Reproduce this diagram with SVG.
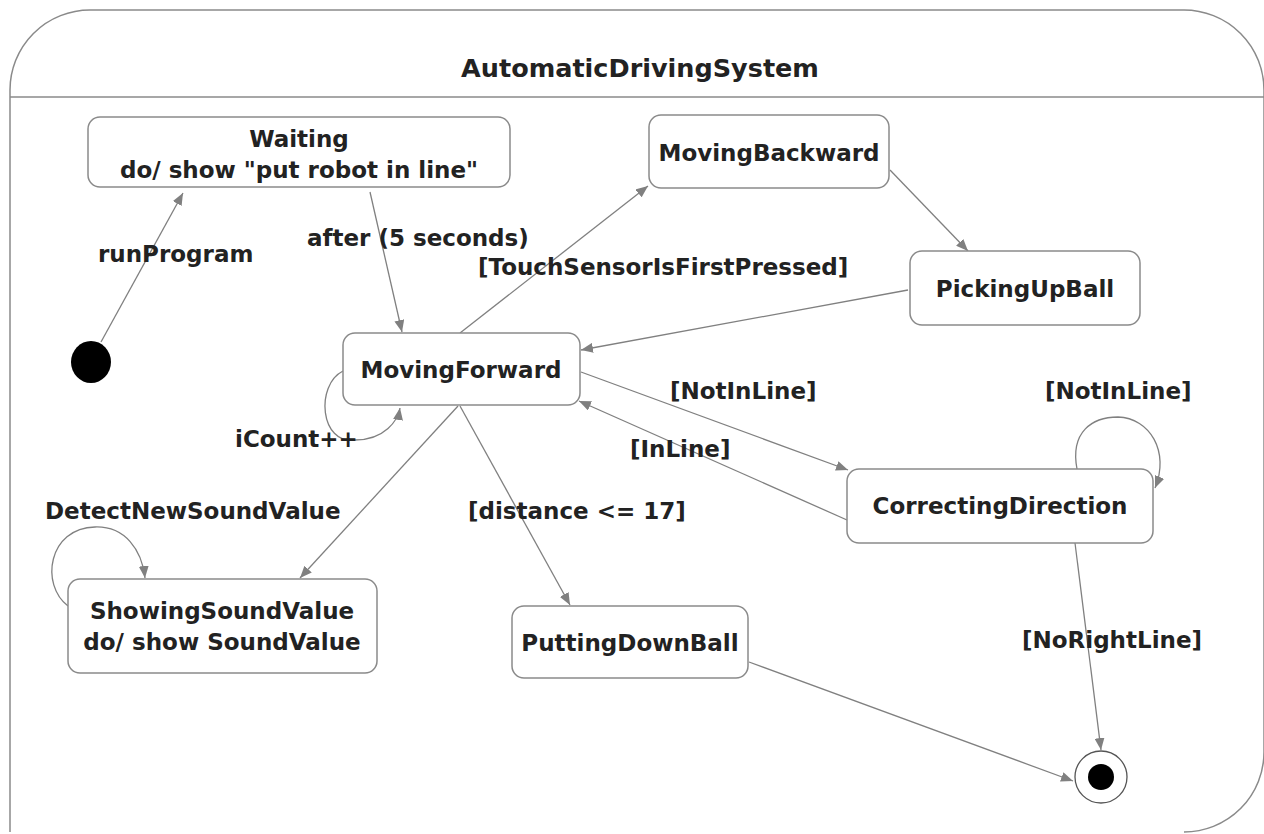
<svg xmlns="http://www.w3.org/2000/svg" width="1264" height="834" viewBox="0 0 1264 834">
<defs>
<marker id="arr" viewBox="0 0 12 10" refX="12" refY="5" markerWidth="12" markerHeight="10" markerUnits="userSpaceOnUse" orient="auto">
<path d="M0,0 L12,5 L0,10 Z" fill="#808080"/>
</marker>
</defs>
<style>
.st{fill:#fff;stroke:#8a8a8a;stroke-width:1.5}
.t{font-family:"DejaVu Sans",Verdana,sans-serif;font-size:23px;font-weight:bold;fill:#222;text-anchor:middle}
.lb{font-family:"DejaVu Sans",Verdana,sans-serif;font-size:23px;font-weight:bold;fill:#222}
.c{fill:none;stroke:#808080;stroke-width:1.3;marker-end:url(#arr)}
</style>
<rect width="1264" height="834" fill="#fff"/>
<g id="container">
<path d="M10,832 L10,90 A80,80 0 0 1 90,10 L1184,10 A80,80 0 0 1 1264,90 L1264,752 A80,80 0 0 1 1184,832" fill="none" stroke="#8a8a8a" stroke-width="1.5"/>
<line x1="10" y1="97" x2="1264" y2="97" stroke="#8a8a8a" stroke-width="1.5"/>
<text class="t" x="640" y="77" style="font-size:25.5px">AutomaticDrivingSystem</text>
</g>
<g id="connectors">
<line class="c" x1="101" y1="342" x2="183" y2="193"/>
<line class="c" x1="370" y1="192" x2="402" y2="332"/>
<line class="c" x1="460" y1="333" x2="648" y2="186"/>
<line class="c" x1="890" y1="170" x2="968" y2="251"/>
<line class="c" x1="908" y1="290" x2="581" y2="350"/>
<line class="c" x1="581" y1="372" x2="848" y2="470"/>
<line class="c" x1="847" y1="520" x2="579" y2="401"/>
<path class="c" d="M1077,469 C1070,432 1092,417 1118,417 C1150,418 1170,452 1155,488"/>
<line class="c" x1="1075" y1="543" x2="1101" y2="750"/>
<line class="c" x1="749" y1="662" x2="1073" y2="781"/>
<line class="c" x1="458" y1="406" x2="300" y2="578"/>
<line class="c" x1="460" y1="406" x2="570" y2="605"/>
<path class="c" d="M343,371 C315,385 320,445 355,440 C385,440 398,420 400,408"/>
<path class="c" d="M68,606 C40,585 48,528 95,527 C125,526 142,550 145,578"/>
</g>
<g id="labels">
<text class="lb" x="98" y="262">runProgram</text>
<text class="lb" x="307" y="246">after (5 seconds)</text>
<text class="lb" x="478" y="275">[TouchSensorIsFirstPressed]</text>
<text class="lb" x="670" y="399">[NotInLine]</text>
<text class="lb" x="630" y="457">[InLine]</text>
<text class="lb" x="1045" y="399">[NotInLine]</text>
<text class="lb" x="1022" y="648">[NoRightLine]</text>
<text class="lb" x="468" y="519">[distance &lt;= 17]</text>
<text class="lb" x="235" y="447">iCount++</text>
<text class="lb" x="45" y="519">DetectNewSoundValue</text>
</g>
<g id="initial"><ellipse cx="91" cy="362" rx="20" ry="21" fill="#000"/></g>
<g id="final"><circle cx="1101" cy="777" r="26" fill="#fff" stroke="#555" stroke-width="1.3"/><circle cx="1101" cy="777" r="13" fill="#000"/></g>
<g id="Waiting"><rect class="st" x="88" y="117" width="422" height="70" rx="12"/><text class="t" x="299" y="147">Waiting</text><text class="t" x="299" y="178">do/ show "put robot in line"</text></g>
<g id="MovingBackward"><rect class="st" x="649" y="115" width="240" height="73" rx="12"/><text class="t" x="769" y="161">MovingBackward</text></g>
<g id="PickingUpBall"><rect class="st" x="910" y="251" width="230" height="74" rx="12"/><text class="t" x="1025" y="297">PickingUpBall</text></g>
<g id="MovingForward"><rect class="st" x="343" y="333" width="237" height="72" rx="12"/><text class="t" x="461" y="378">MovingForward</text></g>
<g id="CorrectingDirection"><rect class="st" x="847" y="469" width="306" height="74" rx="12"/><text class="t" x="1000" y="514">CorrectingDirection</text></g>
<g id="ShowingSoundValue"><rect class="st" x="68" y="579" width="309" height="94" rx="12"/><text class="t" x="222" y="619">ShowingSoundValue</text><text class="t" x="222" y="650">do/ show SoundValue</text></g>
<g id="PuttingDownBall"><rect class="st" x="512" y="606" width="236" height="72" rx="12"/><text class="t" x="630" y="651">PuttingDownBall</text></g>
</svg>
